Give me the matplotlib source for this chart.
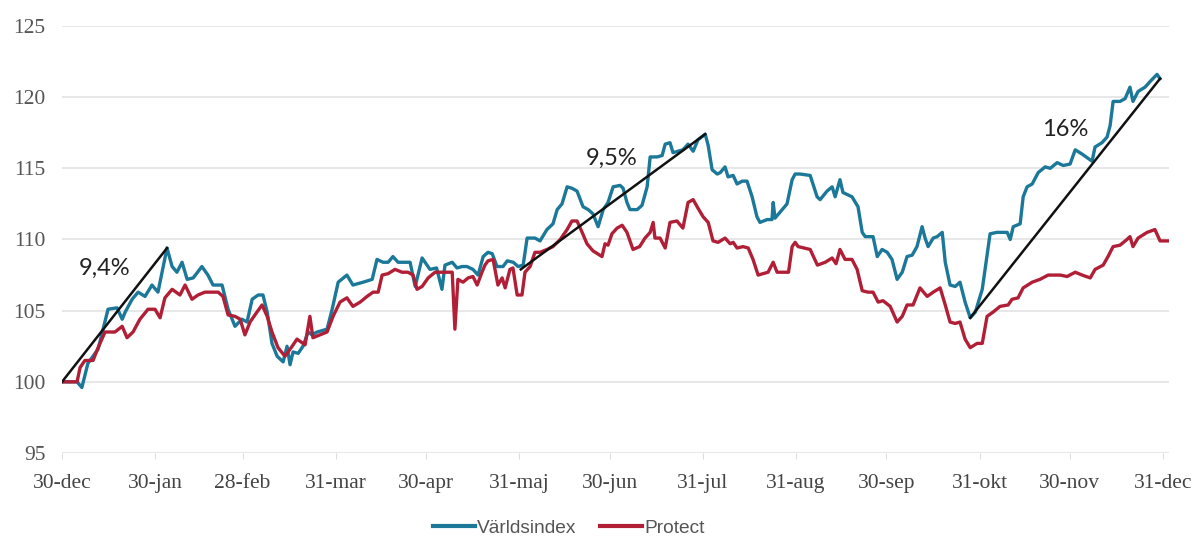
import matplotlib
matplotlib.use("Agg")
import matplotlib.pyplot as plt
from matplotlib.lines import Line2D

# ---- data (x = days since 30-dec) ----
tick_days = [0, 31, 60, 91, 121, 152, 182, 213, 244, 274, 305, 335, 366]
tick_labels = ["30-dec", "30-jan", "28-feb", "31-mar", "30-apr", "31-maj", "30-jun",
               "31-jul", "31-aug", "30-sep", "31-okt", "30-nov", "31-dec"]

varld_days = [0, 5, 6.6, 8.6, 12, 15.3, 18.3, 20, 21, 23.3, 25.3, 27.6, 29.9, 31.9, 34.9,
              36.6, 38.2, 39.9, 41.6, 43.6, 46.5, 48.5, 50.2, 53.2, 55.2, 57.5, 59.8, 61.5,
              63.2, 65.2, 66.8, 68.2, 69.8, 71.5, 73.5, 74.8, 75.8, 76.8, 78.5, 80.1, 81.8,
              83.1, 84.8, 88.1, 89.8, 91.8, 94.7, 96.7, 100.1, 103.1, 104.7, 106.7, 108.4,
              110, 111.7, 115.7, 117.4, 119.7, 122.3, 124.5, 126.3, 127.3, 129.7, 131.3, 133,
              134.6, 136.6, 138.3, 140, 141.6, 143, 144.6, 146.6, 148, 150, 151.6, 153.3,
              154.6, 157.2, 158.9, 161.2, 163.2, 164.6, 166.2, 167.9, 169.5, 171.2, 173.2,
              174.9, 176.5, 178.2, 179.9, 181.5, 183.2, 185.5, 186.5, 187.8, 188.8, 191.2,
              192.8, 194.5, 195.5, 197.8, 199.5, 200.5, 202.1, 203.1, 204.8, 206.4, 208.1,
              209.8, 211.4, 213.8, 214.8, 216.1, 217.8, 218.8, 220.4, 221.4, 223.1, 224.4,
              226.1, 227.7, 229.4, 231, 232, 234.4, 236, 236.4, 237, 239.4, 241, 242.7,
              243.7, 245.3, 248.7, 251, 252, 254.3, 256, 257, 258.6, 259.6, 262.6, 264.6,
              266, 267, 269.6, 271, 272.6, 274.3, 275.9, 277.6, 279.3, 280.9, 282.6, 284.2,
              285.9, 286.9, 287.9, 289.6, 290.9, 292.6, 293.6, 295.2, 296.9, 298.5, 300.2,
              301.9, 303.6, 305.9, 308.5, 310.8, 314.2, 315.2, 316.2, 318.5, 319.5, 320.8,
              322.5, 324.5, 326.8, 328.5, 330.8, 332.8, 335.1, 336.8, 339.1, 342.4, 343.4,
              345.7, 347.4, 348.4, 349.4, 351.7, 353.4, 355, 356, 357.7, 360, 361.7, 364, 365]
varld_vals = [100.0, 100.0, 99.6, 101.3, 102.3, 105.1, 105.2, 104.4, 104.9, 105.8, 106.3, 106.0,
              106.8, 106.3, 109.4, 108.1, 107.7, 108.4, 107.2, 107.3, 108.1, 107.5, 106.8,
              106.8, 105.1, 103.9, 104.4, 104.2, 105.8, 106.1, 106.1, 104.9, 102.7, 101.8,
              101.4, 102.5, 101.2, 102.1, 102.0, 102.5, 103.5, 103.3, 103.5, 103.7, 105.1,
              107.0, 107.5, 106.8, 107.0, 107.2, 108.6, 108.4, 108.4, 108.8, 108.4, 108.4,
              106.7, 108.7, 107.9, 108.0, 106.5, 108.2, 108.4, 108.0, 108.1, 108.1, 107.9,
              107.5, 108.8, 109.1, 109.0, 108.1, 108.1, 108.5, 108.4, 108.1, 108.2, 110.1,
              110.1, 109.9, 110.7, 111.1, 112.1, 112.5, 113.7, 113.6, 113.4, 112.3, 112.1,
              111.8, 110.9, 112.1, 112.6, 113.7, 113.8, 113.6, 112.6, 112.1, 112.1, 112.4,
              113.7, 115.8, 115.8, 115.9, 116.7, 116.8, 116.1, 116.2, 116.3, 116.7, 116.2,
              117.0, 117.4, 116.6, 114.9, 114.6, 114.7, 115.1, 114.4, 114.5, 113.9, 114.1,
              114.1, 113.0, 111.6, 111.2, 111.4, 111.4, 112.6, 111.5, 112.1, 112.5, 114.2,
              114.6, 114.6, 114.5, 113.0, 112.8, 113.4, 113.7, 113.0, 114.2, 113.3, 113.0,
              112.3, 110.5, 110.2, 110.2, 108.8, 109.3, 109.1, 108.6, 107.2, 107.7, 108.8,
              108.9, 109.5, 110.9, 110.1, 109.5, 110.1, 110.2, 110.5, 108.4, 106.8, 106.7,
              107.0, 105.6, 104.5, 104.9, 106.5, 110.4, 110.5, 110.5, 110.0, 110.9, 111.1,
              113.0, 113.7, 113.9, 114.7, 115.1, 115.0, 115.4, 115.2, 115.3, 116.3, 116.0,
              115.5, 116.5, 116.8, 117.2, 118.0, 119.7, 119.7, 119.9, 120.7, 119.7, 120.4,
              120.7, 121.1, 121.6, 121.3]

protect_days = [0, 5, 6, 7.6, 10.3, 12, 14.3, 17.6, 20, 21.6, 23.6, 25.9, 28.6, 30.9, 32.6,
                34.2, 36.6, 39.2, 40.9, 43.2, 45.2, 47.5, 49.9, 51.9, 53.5, 55.2, 57.5, 59.2,
                60.8, 62.5, 64.8, 66.5, 68.2, 69.8, 71.8, 74.1, 76.5, 78.1, 80.8, 82.4, 83.4,
                85.8, 88.1, 90.1, 92.4, 94.7, 96.7, 99.1, 101.4, 103.4, 105.1, 106.4, 108.4,
                110.7, 113, 115, 116.7, 118, 119.7, 121.7, 124, 125.7, 129.7, 130.6, 131.6,
                133.3, 135, 136.6, 138, 139.6, 140.6, 141.6, 143.3, 144.9, 146.3, 147.3, 148.9,
                149.9, 151.3, 152.9, 153.9, 155.6, 157.2, 158.9, 161.2, 163.2, 165.6, 167.9,
                169.5, 171.2, 172.9, 174.5, 176.5, 179.5, 180.5, 181.5, 182.8, 184.5, 186.2,
                187.8, 189.8, 192, 193.8, 195.5, 196.5, 197.1, 198.8, 200.5, 202.1, 204.4,
                206.4, 208.1, 209.8, 211.4, 213.1, 214.8, 216.4, 218.1, 220.4, 222.1, 223.1,
                224.4, 226.4, 228.1, 229.7, 231.4, 233, 234.7, 236.4, 237.7, 239.4, 241.5,
                242.7, 243.7, 244.7, 248.7, 251.1, 253.7, 256, 257.3, 258.6, 260.3, 262.6,
                264.3, 266, 267.9, 269.6, 271.3, 272.9, 275.3, 277.6, 279.3, 280.9, 282.9,
                285.2, 287.6, 289.6, 291.9, 293.6, 295.2, 296.9, 298.5, 300.2, 301.9, 304.2,
                305.9, 307.5, 309.5, 311.8, 314.5, 315.8, 317.8, 319.5, 322.5, 325.1, 327.8,
                331.8, 334.1, 336.8, 339.1, 341.8, 343.4, 346.1, 347.7, 349.4, 351.7, 354, 355,
                356, 357.7, 360.7, 363.3, 365, 367.7]
protect_vals = [100.0, 100.0, 101.0, 101.5, 101.5, 102.4, 103.5, 103.5, 103.9, 103.1, 103.5,
                104.4, 105.1, 105.1, 104.5, 105.9, 106.5, 106.1, 106.8, 105.8, 106.1, 106.3,
                106.3, 106.3, 106.0, 104.7, 104.6, 104.4, 103.3, 104.2, 104.9, 105.4, 104.6,
                103.5, 102.4, 101.8, 102.5, 103.0, 102.6, 104.6, 103.1, 103.3, 103.5, 104.6,
                105.6, 105.9, 105.3, 105.6, 106.0, 106.3, 106.3, 107.5, 107.6, 107.9, 107.7,
                107.7, 107.5, 106.5, 106.7, 107.3, 107.7, 107.7, 107.7, 103.7, 107.2, 107.0,
                107.3, 107.4, 106.8, 107.7, 108.2, 108.5, 108.6, 106.8, 107.3, 106.6, 107.9,
                108.0, 106.1, 106.1, 107.7, 108.1, 109.1, 109.1, 109.3, 109.5, 110.0, 110.7,
                111.3, 111.3, 110.5, 109.7, 109.2, 108.8, 109.7, 109.6, 110.4, 110.8, 111.0,
                110.5, 109.3, 109.5, 110.1, 110.5, 111.2, 110.1, 110.1, 109.4, 111.2, 111.3,
                110.8, 112.6, 112.8, 112.2, 111.6, 111.2, 109.9, 109.8, 110.1, 109.7, 109.8,
                109.4, 109.5, 109.4, 108.6, 107.5, 107.6, 107.7, 108.4, 107.7, 107.7, 107.7,
                109.5, 109.8, 109.5, 109.3, 108.2, 108.4, 108.7, 108.3, 109.3, 108.6, 108.6,
                107.9, 106.4, 106.3, 106.3, 105.6, 105.7, 105.3, 104.2, 104.6, 105.4, 105.4,
                106.6, 106.0, 106.3, 106.6, 105.4, 104.2, 104.1, 104.2, 103.0, 102.4, 102.7,
                102.7, 104.6, 104.9, 105.3, 105.4, 105.8, 105.9, 106.6, 107.0, 107.2, 107.5,
                107.5, 107.4, 107.7, 107.5, 107.3, 107.9, 108.2, 108.8, 109.5, 109.6, 110.0,
                110.2, 109.5, 110.1, 110.5, 110.7, 109.9, 109.9]

# trend segments and their labels
trend_starts_days = [0, 152.5, 301.9]
trend_starts_vals = [100.0, 107.9, 104.5]
trend_ends_days = [34.9, 213.8, 365]
trend_ends_vals = [109.4, 117.4, 121.3]
trend_labels = ["9,4%", "9,5%", "16%"]
label_days = [14.3, 182.8, 333.4]
label_vals = [108.0, 115.7, 117.7]

BLUE = "#1b7898"
RED = "#b11f36"

fig = plt.figure(figsize=(11.95, 5.38), dpi=100)
ax = fig.add_axes([0.0519, 0.158, 0.9264, 0.7937])

ax.plot(varld_days, varld_vals, color=BLUE, lw=2.4, solid_joinstyle="round", zorder=3)
ax.plot(protect_days, protect_vals, color=RED, lw=2.4, solid_joinstyle="round", zorder=4)

for sd, sv, ed, ev in zip(trend_starts_days, trend_starts_vals, trend_ends_days, trend_ends_vals):
    ax.plot([sd, ed], [sv, ev], color="#111111", lw=1.8, zorder=5)
for lab, d, v in zip(trend_labels, label_days, label_vals):
    ax.text(d, v, lab, fontsize=17, family="Lato", color="#222222", ha="center", va="center")

ax.set_xlim(0, 368)
ax.set_ylim(95, 125)
ax.set_yticks([95, 100, 105, 110, 115, 120, 125])
ax.set_xticks(tick_days)
ax.set_xticklabels(tick_labels)
ax.grid(axis="y", color="#e3e3e3", lw=1.2)
ax.set_axisbelow(True)
for s in ax.spines.values():
    s.set_visible(False)
ax.tick_params(axis="y", length=0, pad=12, labelsize=15.5, labelcolor="#555555")
ax.tick_params(axis="x", length=4, color="#dddddd", pad=11, labelsize=15.5, labelcolor="#444444")
for lbl in ax.get_xticklabels() + ax.get_yticklabels():
    lbl.set_family("Liberation Serif")

handles = [Line2D([], [], color=BLUE, lw=3), Line2D([], [], color=RED, lw=3)]
fig.legend(handles, ["Världsindex", "Protect"], loc="lower center", bbox_to_anchor=(0.476, -0.03),
           ncol=2, frameon=False, handlelength=2.2, handletextpad=0.1, columnspacing=1.2,
           prop={"family": "Liberation Sans", "size": 13.8}, labelcolor="#555555")

fig.savefig("out.png", dpi=100)
